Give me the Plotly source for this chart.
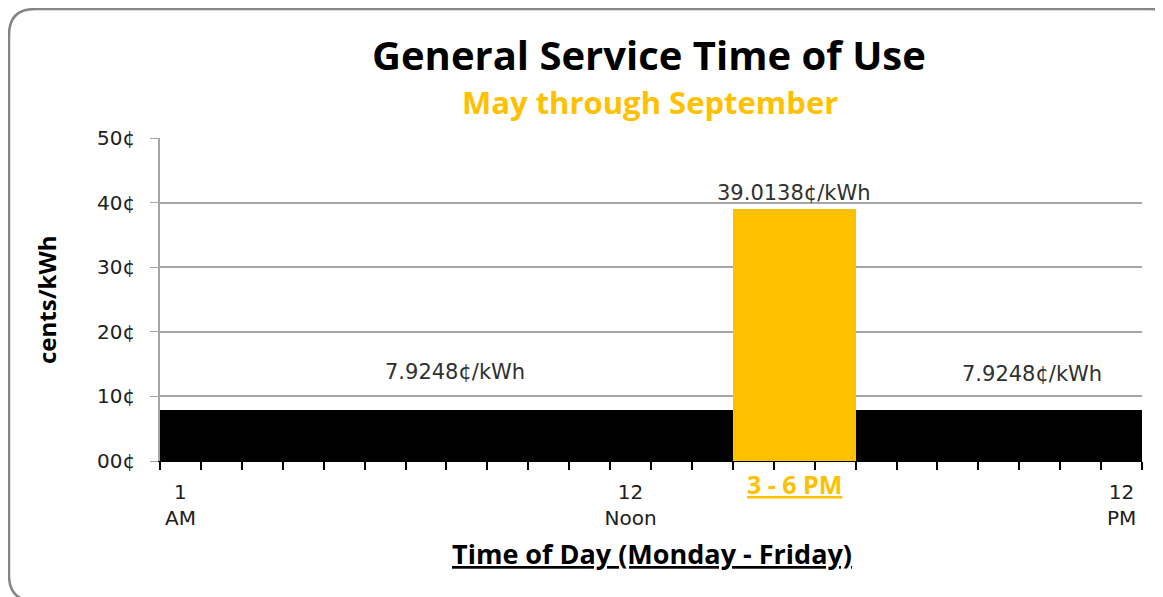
import plotly.graph_objects as go

# ---- data ----
hours = [str(h) for h in range(1, 25)]
peak_hours = ["15", "16", "17"]
off_peak_rate = 7.9248
peak_rate = 39.0138
rates = [peak_rate if h in peak_hours else off_peak_rate for h in hours]
hour_labels = {"1": "1<br>AM", "12": "12<br>Noon", "24": "12<br>PM"}
y_ticks = [0, 10, 20, 30, 40, 50]
y_tick_text = ["00¢", "10¢", "20¢", "30¢", "40¢", "50¢"]
title = "General Service Time of Use"
subtitle = "May through September"
peak_label = "3 - 6 PM"
x_title = "Time of Day (Monday - Friday)"
y_title = "cents/kWh"

GOLD = "#FFC000"
colors = [GOLD if h in peak_hours else "#000000" for h in hours]
HEAD = "Open Sans"
BODY = "DejaVu Sans"

fig = go.Figure(go.Bar(
    x=hours, y=rates, marker=dict(color=colors, line=dict(width=0)),
    hoverinfo="x+y",
))

OFF = 8  # page body margin
W, H = 1163 - OFF, 597 - OFF
L, T = 160 - OFF, 138 - OFF
R = W - (1142 - OFF)
B = H - (461 - OFF)
pw, ph = W - L - R, H - T - B


def px(xp):
    """page x -> paper x"""
    return (xp - OFF - L) / pw


def py(yp):
    """page y -> paper y"""
    return (H - B - (yp - OFF)) / ph


fig.update_layout(
    width=W, height=H,
    margin=dict(l=L, r=R, t=T, b=B, autoexpand=False),
    paper_bgcolor="white", plot_bgcolor="white",
    bargap=0, showlegend=False,
    font=dict(family=BODY, color="#303030", size=19),
)
fig.update_xaxes(
    type="category", tickson="boundaries",
    tickmode="array", tickvals=hours,
    ticktext=[hour_labels.get(h, "") for h in hours],
    tickangle=0,
    ticks="outside", ticklen=8, tickwidth=2, tickcolor="black",
    showgrid=False, showline=True, linecolor="black", linewidth=1,
    tickfont=dict(family=BODY, size=20, color="#202020"),
    ticklabelstandoff=13,
)
fig.update_yaxes(
    range=[0, 50], tickmode="array", tickvals=y_ticks, ticktext=y_tick_text,
    ticks="outside", ticklen=8, tickcolor="#A6A6A6", tickwidth=1,
    showgrid=True, gridcolor="#A6A6A6", gridwidth=1.5,
    showline=True, linecolor="#A6A6A6", linewidth=1.5,
    zeroline=False,
    tickfont=dict(family=BODY, size=20, color="#202020"),
    ticklabelstandoff=11,
)

ann = []
ann.append(dict(xref="paper", yref="paper", x=px(649), y=py(54), text="<b>" + title + "</b>",
                showarrow=False, font=dict(family=HEAD, size=40, color="black"),
                xanchor="center", yanchor="middle"))
ann.append(dict(xref="paper", yref="paper", x=px(650), y=py(102), text="<b>" + subtitle + "</b>",
                showarrow=False, font=dict(family=HEAD, size=31, color=GOLD),
                xanchor="center", yanchor="middle"))
ann.append(dict(xref="paper", yref="paper", x=px(652), y=py(553), text="<b><u>" + x_title + "</u></b>",
                showarrow=False, font=dict(family=HEAD, size=27, color="black"),
                xanchor="center", yanchor="middle"))
ann.append(dict(xref="paper", yref="paper", x=px(46), y=py(300), text="<b>" + y_title + "</b>",
                textangle=-90, showarrow=False, font=dict(family=HEAD, size=24, color="black"),
                xanchor="center", yanchor="middle"))
mid_peak = hours.index(peak_hours[1])
ann.append(dict(xref="x", yref="paper", x=mid_peak, y=py(484), text="<b><u>" + peak_label + "</u></b>",
                showarrow=False, font=dict(family=HEAD, size=25, color=GOLD),
                xanchor="center", yanchor="middle"))
# data labels
lab_font = dict(family=BODY, size=21, color="#303030")
ann.append(dict(xref="x", yref="y", x=6.7, y=off_peak_rate, yshift=38,
                text=f"{off_peak_rate}¢/kWh", showarrow=False, font=lab_font, yanchor="middle"))
ann.append(dict(xref="x", yref="y", x=20.8, y=off_peak_rate, yshift=36,
                text=f"{off_peak_rate}¢/kWh", showarrow=False, font=lab_font, yanchor="middle"))
ann.append(dict(xref="x", yref="y", x=mid_peak, y=peak_rate, yshift=16,
                text=f"{peak_rate}¢/kWh", showarrow=False, font=lab_font, yanchor="middle"))
fig.update_layout(annotations=ann)

# rounded frame
x0, x1 = px(9), px(1176)
y0, y1 = py(601), py(9)
rx, ry = 26 / pw, 26 / ph
path = (f"M {x0+rx},{y1} L {x1-rx},{y1} Q {x1},{y1} {x1},{y1-ry} "
        f"L {x1},{y0+ry} Q {x1},{y0} {x1-rx},{y0} L {x0+rx},{y0} "
        f"Q {x0},{y0} {x0},{y0+ry} L {x0},{y1-ry} Q {x0},{y1} {x0+rx},{y1} Z")
fig.add_shape(type="path", path=path, xref="paper", yref="paper",
              line=dict(color="#858585", width=2.5), layer="below")

fig.write_html("out.html")
